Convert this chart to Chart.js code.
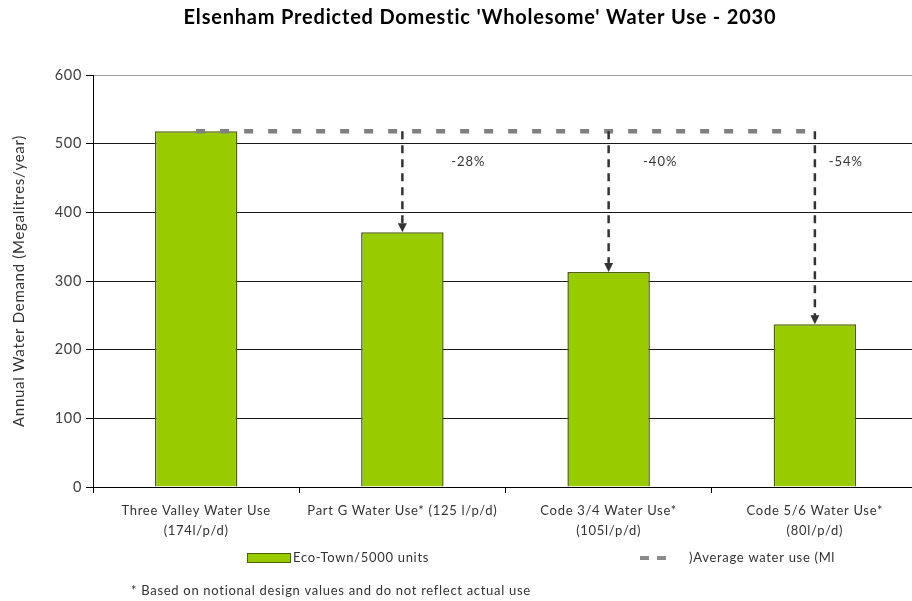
<!DOCTYPE html>
<html>
<head>
<meta charset="utf-8">
<script src="https://cdn.jsdelivr.net/npm/chart.js@4"></script>
<style>
  html, body { margin: 0; padding: 0; background: #fff; overflow: hidden; }
  #wrap { width: 930px; height: 601px; }
</style>
</head>
<body>
<div id="wrap"><canvas id="c" width="930" height="601"></canvas></div>
<script>
// Categories (multi-line labels where the axis wraps them)
const categories = [
  ["Three Valley Water Use", "(174l/p/d)"],
  "Part G Water Use* (125 l/p/d)",
  ["Code 3/4 Water Use*", "(105l/p/d)"],
  ["Code 5/6 Water Use*", "(80l/p/d)"]
];
// Annual demand, megalitres per year
const demand = [518, 371, 313, 237];
// Average water use reference line (baseline scenario)
const averageUse = [518, 518, 518, 518];
// Y axis range
const yMin = 0, yMax = 600, yStep = 100;

const FONT = "Lato, 'Open Sans', sans-serif";
const GREEN = '#99cc00';
const BAR_EDGE = '#4d6100';
const SPACING = '0.7px';

// wider tracking for all text drawn by the chart
const tracking = {
  id: 'tracking',
  beforeDraw(chart) { chart.ctx.letterSpacing = SPACING; }
};

const reductionArrows = {
  id: 'reductionArrows',
  afterDatasetsDraw(chart, args, opts) {
    const { ctx, scales: { x, y } } = chart;
    ctx.save();
    for (let i = 1; i < demand.length; i++) {
      const px = x.getPixelForValue(i);
      const yTop = y.getPixelForValue(averageUse[i]);
      const yBar = y.getPixelForValue(demand[i]);
      ctx.strokeStyle = '#333';
      ctx.lineWidth = 2.5;
      ctx.setLineDash([8, 6]);
      ctx.beginPath();
      ctx.moveTo(px, yTop);
      ctx.lineTo(px, yBar - 7);
      ctx.stroke();
      ctx.setLineDash([]);
      ctx.fillStyle = '#333';
      ctx.beginPath();
      ctx.moveTo(px - 4.5, yBar - 9);
      ctx.lineTo(px + 4.5, yBar - 9);
      ctx.lineTo(px, yBar);
      ctx.closePath();
      ctx.fill();
      // percentage change relative to the first scenario
      const pct = Math.round((demand[i] / demand[0] - 1) * 100);
      ctx.font = '13px ' + FONT;
      ctx.letterSpacing = '1px';
      ctx.fillStyle = '#333';
      ctx.textAlign = 'center';
      ctx.textBaseline = 'middle';
      const lx = x.getPixelForValue(i + opts.labelShift[i - 1]);
      ctx.fillText(pct + '%', lx, opts.labelY);
    }
    ctx.restore();
  }
};

const decorations = {
  id: 'decorations',
  afterDraw(chart) {
    const { ctx } = chart;
    ctx.save();
    // title
    ctx.fillStyle = '#000';
    ctx.font = 'bold 20px ' + FONT;
    ctx.letterSpacing = '0.8px';
    ctx.textAlign = 'center';
    ctx.textBaseline = 'middle';
    ctx.fillText("Elsenham Predicted Domestic 'Wholesome' Water Use - 2030", 480, 18);
    // legend: bars
    ctx.letterSpacing = SPACING;
    ctx.fillStyle = GREEN;
    ctx.fillRect(247, 553, 43, 9);
    ctx.strokeStyle = BAR_EDGE;
    ctx.lineWidth = 1;
    ctx.strokeRect(247.5, 553.5, 43, 9);
    ctx.font = '13px ' + FONT;
    ctx.fillStyle = '#333';
    ctx.textAlign = 'left';
    ctx.fillText('Eco-Town/5000 units', 293, 558);
    // legend: average line
    ctx.fillStyle = '#8a8a8a';
    ctx.fillRect(640, 556, 9, 4);
    ctx.fillRect(657, 556, 9, 4);
    ctx.fillStyle = '#333';
    ctx.fillText(')Average water use (Ml', 689, 558);
    // footnote
    ctx.fillText('* Based on notional design values and do not reflect actual use', 131, 591);
    ctx.restore();
  }
};

new Chart(document.getElementById('c'), {
  data: {
    labels: categories,
    datasets: [
      {
        type: 'line',
        label: ')Average water use (Ml',
        data: averageUse,
        borderColor: '#808080',
        borderWidth: 4.5,
        borderDash: [9, 15],
        pointRadius: 0,
        fill: false,
        order: 0
      },
      {
        type: 'bar',
        label: 'Eco-Town/5000 units',
        data: demand,
        backgroundColor: GREEN,
        borderColor: BAR_EDGE,
        borderWidth: 1.5,
        barPercentage: 0.4,
        categoryPercentage: 1,
        order: 1
      }
    ]
  },
  options: {
    responsive: false,
    devicePixelRatio: 1,
    animation: false,
    layout: { padding: { left: 0, right: 12, top: 75, bottom: 54 } },
    plugins: {
      legend: { display: false },
      tooltip: { enabled: false },
      reductionArrows: { labelShift: [0.32, 0.25, 0.15], labelY: 162 }
    },
    scales: {
      x: {
        offset: true,
        afterFit(s) { s.height = 60; },
        grid: {
          offset: true,
          drawOnChartArea: false,
          drawTicks: true,
          tickLength: 6,
          tickColor: '#000'
        },
        border: { color: '#000', width: 1 },
        ticks: {
          color: '#333',
          font: { family: FONT, size: 13, lineHeight: 1.55 },
          padding: 8,
          maxRotation: 0,
          autoSkip: false
        }
      },
      y: {
        min: yMin,
        max: yMax,
        afterFit(s) { s.width = 93; },
        ticks: {
          stepSize: yStep,
          color: '#404040',
          font: { family: FONT, size: 14.5 },
          padding: 4
        },
        grid: {
          color: (c) => c.tick && c.tick.value === yMax ? '#a0a0a0' : '#1a1a1a',
          tickColor: '#000',
          tickLength: 7,
          lineWidth: 1
        },
        border: { color: '#000', width: 1 },
        title: {
          display: true,
          text: 'Annual Water Demand (Megalitres/year)',
          color: '#333',
          font: { family: FONT, size: 15 },
          padding: { top: 10, bottom: 0 }
        }
      }
    }
  },
  plugins: [tracking, reductionArrows, decorations]
});
</script>
</body>
</html>
